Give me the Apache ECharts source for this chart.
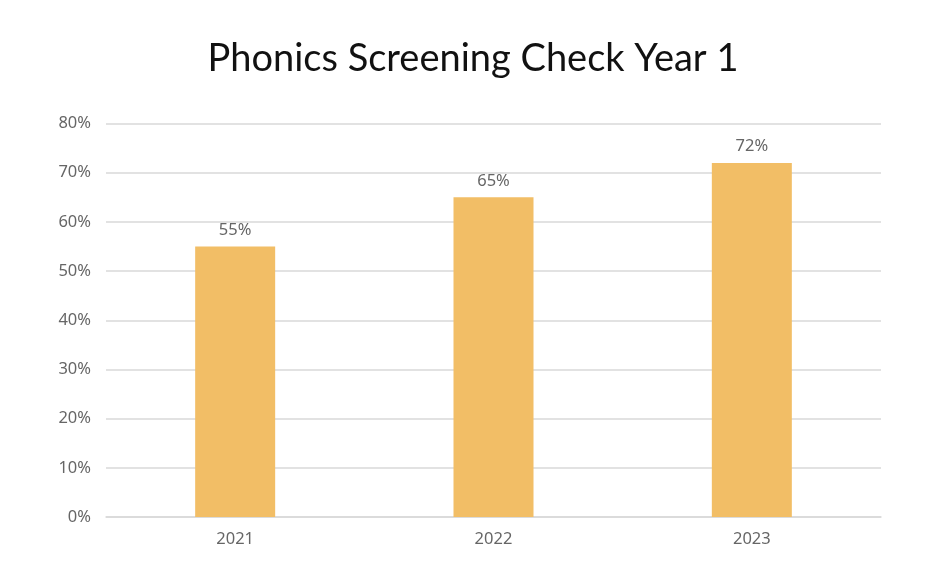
<!DOCTYPE html>
<html><head><meta charset="utf-8">
<script src="https://cdn.jsdelivr.net/npm/echarts@6/dist/echarts.min.js"></script>
<style>html,body{margin:0;padding:0;background:#fff}#c{width:946px;height:588px}</style>
</head><body><div id="c"></div>
<script>
const titleText = 'Phonics Screening Check Year 1';
const categories = ['2021', '2022', '2023'];
const values = [55, 65, 72];
const yTicks = [0, 10, 20, 30, 40, 50, 60, 70, 80];

const chart = echarts.init(document.getElementById('c'));
chart.setOption({
  animation: false,
  backgroundColor: '#fff',
  title: {
    text: titleText, left: 'center', top: 35,
    textStyle: { fontFamily: 'Lato', fontWeight: 'normal', fontSize: 38, color: '#111' }
  },
  grid: { left: 106, right: 65, top: 123.6, bottom: 71 },
  xAxis: {
    type: 'category', data: categories,
    axisLine: { lineStyle: { color: '#d9d9d9', width: 1.5 } },
    axisTick: { show: false },
    axisLabel: { color: '#666', fontSize: 16.5, margin: 14, fontFamily: 'Noto Sans' }
  },
  yAxis: {
    type: 'value', min: yTicks[0], max: yTicks[yTicks.length - 1], interval: 10,
    axisLine: { show: false }, axisTick: { show: false },
    splitLine: { lineStyle: { color: '#d9d9d9', width: 1.5 } },
    axisLabel: { color: '#666', fontSize: 16.5, margin: 15, fontFamily: 'Noto Sans', formatter: '{value}%' }
  },
  series: [{
    type: 'bar', data: values, barWidth: 80,
    itemStyle: { color: '#F2BE66' },
    label: { show: true, position: 'top', distance: 8, formatter: '{c}%', color: '#666', fontSize: 16.5, fontFamily: 'Noto Sans' }
  }]
});
</script></body></html>
